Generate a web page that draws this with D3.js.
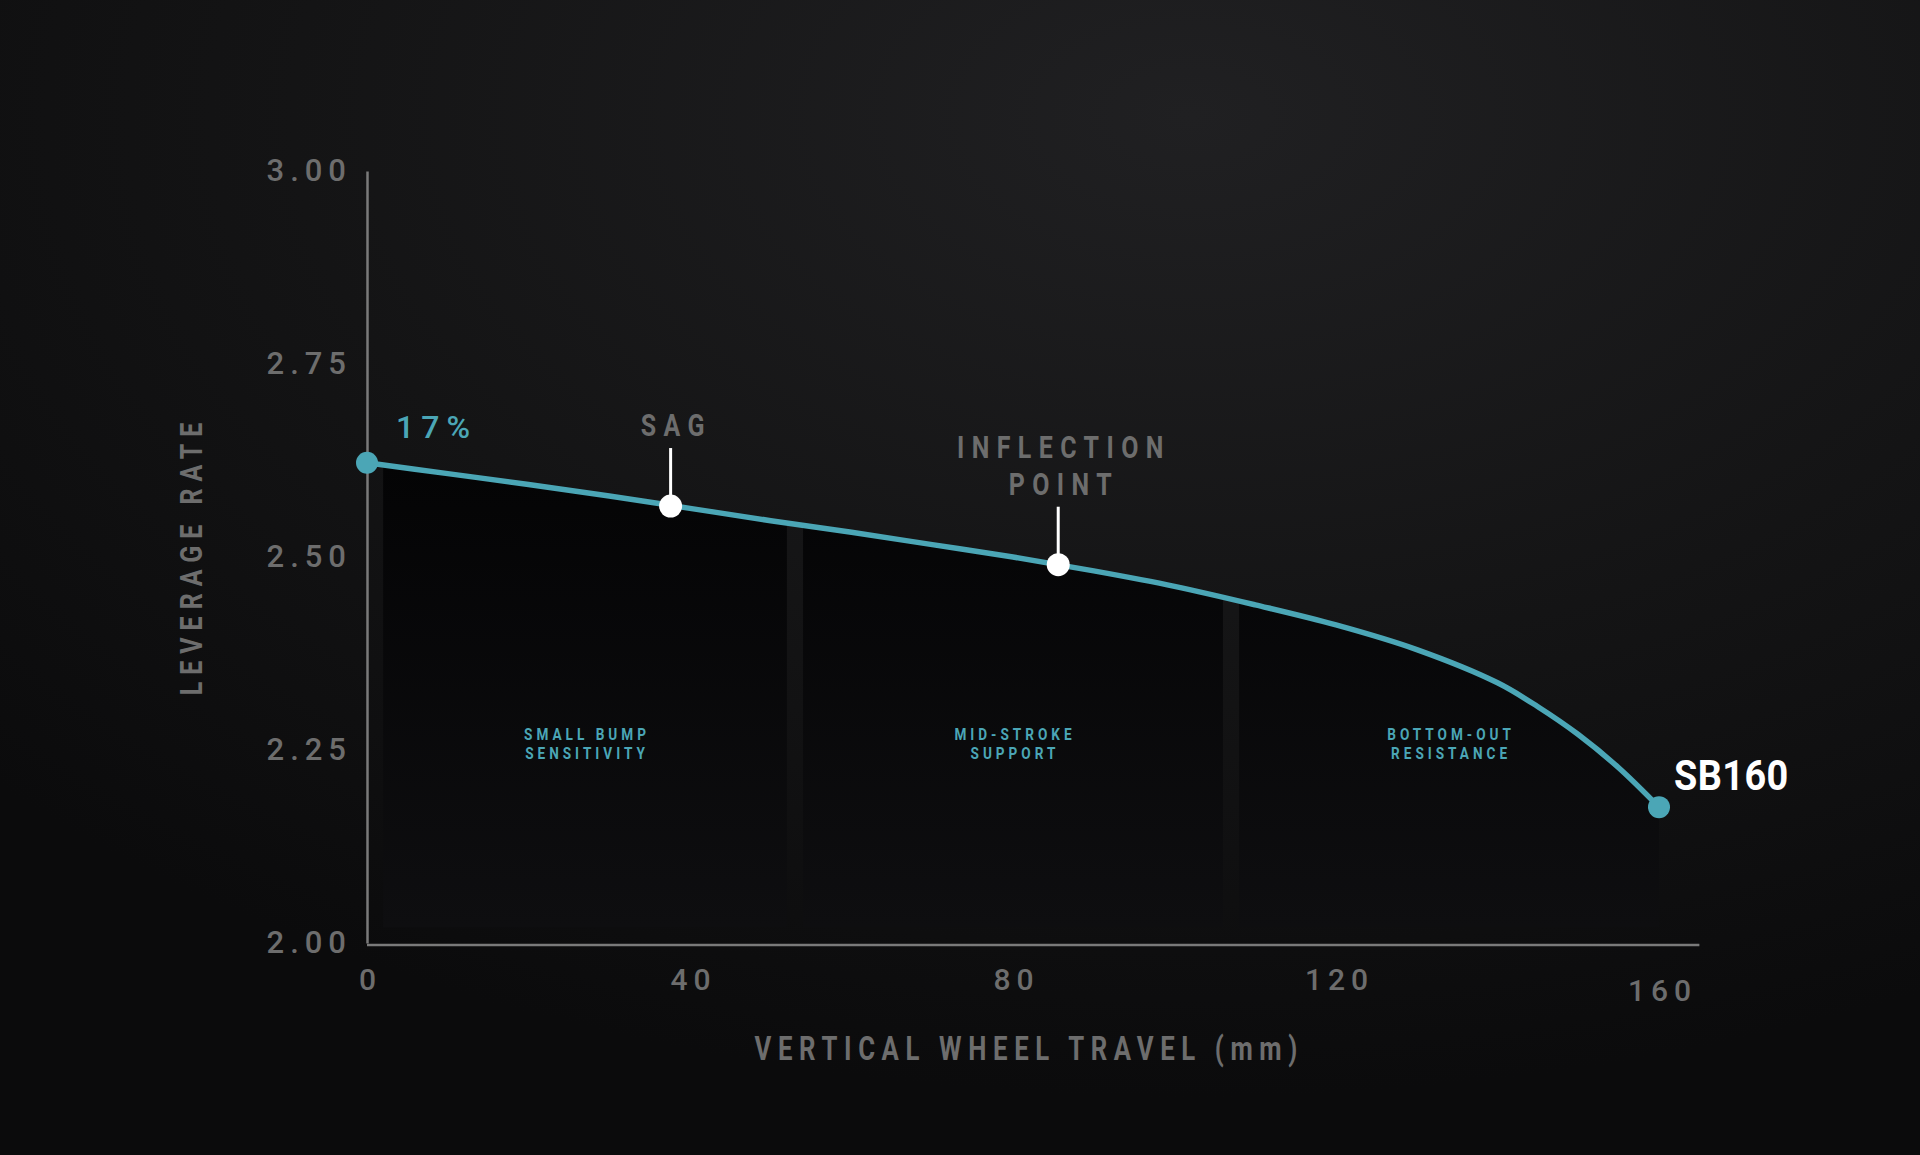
<!DOCTYPE html>
<html>
<head>
<meta charset="utf-8">
<script src="https://cdn.jsdelivr.net/npm/d3@7"></script>
<style>
  html, body { margin: 0; padding: 0; background: #101011; }
  svg { display: block; }
</style>
</head>
<body>
<div id="chart"></div>
<script>
// leverage curve
const travel = [0, 10, 20, 30, 40, 50, 60, 70, 80, 90, 100, 110, 120, 130, 140, 145, 150, 155, 160];
const rate = [2.622, 2.608, 2.594, 2.579, 2.563, 2.547, 2.532, 2.516, 2.500, 2.482, 2.462, 2.438, 2.412, 2.380, 2.337, 2.306, 2.270, 2.227, 2.176];

const xTicks = [0, 40, 80, 120, 160];
const yTicks = [2.00, 2.25, 2.50, 2.75, 3.00];
const xAxisEnd = 165;

const zoneStart = [2, 54, 108];
const zoneEnd = [52, 106, 160];
const zoneLabels = [["SMALL BUMP", "SENSITIVITY"], ["MID-STROKE", "SUPPORT"], ["BOTTOM-OUT", "RESISTANCE"]];
const zoneFloor = 2.02;

const markerLabels = [["SAG"], ["INFLECTION", "POINT"]];
const markerTravel = [37.6, 85.6];
const markerRate = [2.566, 2.49];

const startLabel = "17%";
const bikeName = "SB160";

const W = 1920, H = 1155;
const teal = "#4ba6b6";
const grey = "#6d6d6d";
const font = "Roboto, 'Noto Sans', sans-serif";

const svg = d3.select("#chart").append("svg")
    .attr("width", W)
    .attr("height", H);

const defs = svg.append("defs");
const bg = defs.append("radialGradient")
    .attr("id", "bg")
    .attr("cx", 0.62).attr("cy", 0.1).attr("r", 0.85);
bg.append("stop").attr("offset", "0%").attr("stop-color", "#202022");
bg.append("stop").attr("offset", "55%").attr("stop-color", "#141415");
bg.append("stop").attr("offset", "100%").attr("stop-color", "#0b0b0c");

const zoneFill = defs.append("linearGradient")
    .attr("id", "zoneFill")
    .attr("x1", 0).attr("y1", 0).attr("x2", 0).attr("y2", 1);
zoneFill.append("stop").attr("offset", "0%").attr("stop-color", "#040405");
zoneFill.append("stop").attr("offset", "100%").attr("stop-color", "#0e0e10");

svg.append("rect")
    .attr("width", W).attr("height", H)
    .attr("fill", "url(#bg)");

// narrow bold text: no condensed face installed, so squeeze Roboto Bold
function narrowText(parent, px, py, opts) {
    const sx = opts.squeeze || 0.78;
    const g = parent.append("g")
        .attr("transform", `translate(${px},${py}) rotate(${opts.rotate || 0}) scale(${sx},1)`);
    const t = g.append("text")
        .attr("text-anchor", opts.anchor || "middle")
        .attr("fill", opts.fill)
        .attr("font-family", font)
        .attr("font-weight", "bold")
        .attr("font-size", opts.size)
        .attr("letter-spacing", opts.spacing || 0);
    const shift = (opts.anchor || "middle") === "middle" ? (opts.spacing || 0) / 2 : 0;
    opts.lines.forEach((txt, j) => {
        t.append("tspan")
            .attr("x", shift)
            .attr("y", j * (opts.lineGap || 0))
            .text(txt);
    });
    return g;
}

const x = d3.scaleLinear().domain([0, 160]).range([367, 1659]);
const y = d3.scaleLinear().domain([2, 3]).range([943, 171]);

const points = travel.map((t, i) => ({ t, r: rate[i] }));
const smooth = d3.curveCatmullRom.alpha(0.5);

// zones: one area under the curve, clipped into three columns
const clip = defs.append("clipPath").attr("id", "zones");
clip.selectAll("rect")
    .data(zoneStart)
    .join("rect")
    .attr("x", d => x(d))
    .attr("width", (d, i) => x(zoneEnd[i]) - x(d))
    .attr("y", y(3))
    .attr("height", y(zoneFloor) - y(3));

const area = d3.area()
    .x(d => x(d.t))
    .y0(y(zoneFloor))
    .y1(d => y(d.r))
    .curve(smooth);

svg.append("path")
    .datum(points)
    .attr("d", area)
    .attr("fill", "url(#zoneFill)")
    .attr("clip-path", "url(#zones)");

zoneLabels.forEach((lines, i) => {
    narrowText(svg, x((zoneStart[i] + zoneEnd[i]) / 2), y(2.263), {
        lines, fill: teal, size: 17, spacing: 5, lineGap: 19, squeeze: 0.8
    });
});

// axes
const yAxis = svg.append("g")
    .attr("transform", `translate(${x(0)},0)`)
    .call(d3.axisLeft(y).tickValues(yTicks).tickSize(0).tickPadding(21).tickFormat(d3.format(".2f")));
yAxis.select(".domain").attr("stroke", "#7a7a7a").attr("stroke-width", 2.5);
yAxis.selectAll("text")
    .attr("fill", grey)
    .attr("font-family", font)
    .attr("font-weight", 500)
    .attr("font-size", 31)
    .attr("letter-spacing", 6)
    .attr("dx", 6);

const xAxis = svg.append("g")
    .attr("transform", `translate(0,${y(2) + 2})`)
    .call(d3.axisBottom(x).tickValues(xTicks).tickSize(0).tickPadding(24));
xAxis.select(".domain")
    .attr("d", `M${x(0)},0H${x(xAxisEnd)}`)
    .attr("stroke", "#7a7a7a").attr("stroke-width", 2.5);
xAxis.selectAll("text")
    .attr("fill", grey)
    .attr("font-family", font)
    .attr("font-weight", 500)
    .attr("font-size", 30)
    .attr("letter-spacing", 6)
    .attr("dx", 3)
    .attr("dy", d => d === 160 ? "1.05em" : "0.71em");

// axis titles
narrowText(svg, x(0) - 165, y(2.5) + 2, {
    lines: ["LEVERAGE RATE"], fill: grey, size: 32, spacing: 9, rotate: -90
});
narrowText(svg, x(81.6), y(2) + 117, {
    lines: ["VERTICAL WHEEL TRAVEL (mm)"], fill: grey, size: 33, spacing: 8.5
});

// curve
const line = d3.line()
    .x(d => x(d.t))
    .y(d => y(d.r))
    .curve(smooth);

svg.append("path")
    .datum(points)
    .attr("d", line)
    .attr("fill", "none")
    .attr("stroke", teal)
    .attr("stroke-width", 5.5)
    .attr("stroke-linecap", "round");

const first = points[0], last = points[points.length - 1];
svg.selectAll("circle.end")
    .data([first, last])
    .join("circle")
    .attr("class", "end")
    .attr("cx", d => x(d.t))
    .attr("cy", d => y(d.r))
    .attr("r", 11)
    .attr("fill", teal);

svg.append("text")
    .attr("x", x(first.t) + 29)
    .attr("y", y(first.r) - 25)
    .attr("fill", teal)
    .attr("font-family", font)
    .attr("font-weight", 500)
    .attr("font-size", 32)
    .attr("letter-spacing", 7)
    .text(startLabel);

narrowText(svg, x(last.t) + 15, y(last.r) - 17, {
    lines: [bikeName], fill: "#ffffff", size: 43, spacing: 0.5, anchor: "start", squeeze: 0.88
});

// sag + inflection markers
markerLabels.forEach((lines, i) => {
    const mx = x(markerTravel[i]), my = y(markerRate[i]);
    const stemTop = my - 58;
    svg.append("line")
        .attr("x1", mx).attr("x2", mx)
        .attr("y1", stemTop).attr("y2", my)
        .attr("stroke", "#ffffff")
        .attr("stroke-width", 3);
    svg.append("circle")
        .attr("cx", mx).attr("cy", my)
        .attr("r", 11.5)
        .attr("fill", "#ffffff");
    const lineGap = 37;
    narrowText(svg, mx + 2, stemTop - 12 - (lines.length - 1) * lineGap, {
        lines, fill: grey, size: 32, spacing: 9.5, lineGap
    });
});
</script>
</body>
</html>
